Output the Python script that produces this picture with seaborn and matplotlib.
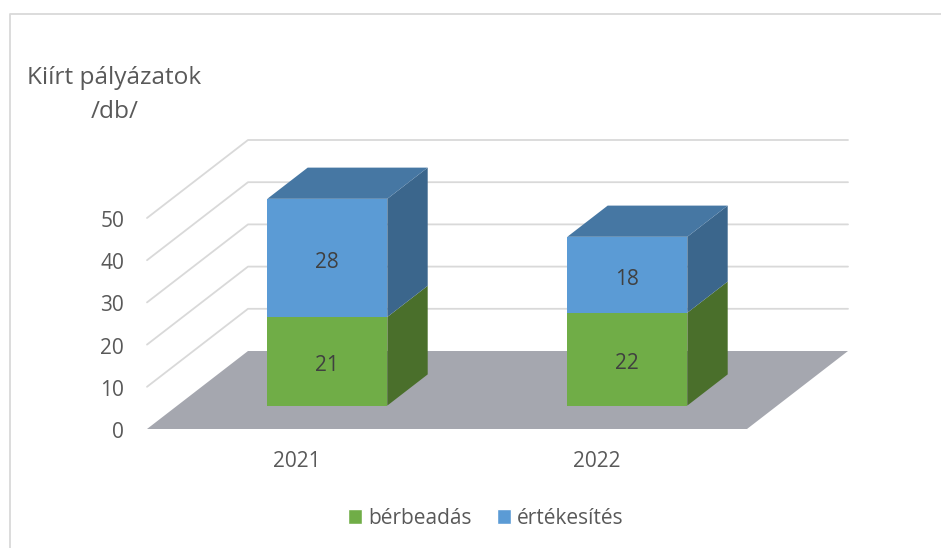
import matplotlib
matplotlib.use("Agg")
import matplotlib.pyplot as plt
import seaborn as sns
import pandas as pd
from matplotlib.patches import Polygon, Patch
from matplotlib.lines import Line2D
from matplotlib.transforms import Affine2D, ScaledTranslation

years = ["2021", "2022"]
berbeadas = [21, 22]
ertekesites = [28, 18]
y_ticks = [0, 10, 20, 30, 40, 50]
series_names = ["bérbeadás", "értékesítés"]

GREEN, GREEN_SIDE = "#70AD47", "#4A6F2B"
BLUE, BLUE_SIDE, BLUE_TOP = "#5B9BD5", "#3B668C", "#4677A3"
GREY_TXT = "#595959"
W, H = 941, 548

sns.set_theme(style="white")
plt.rcParams["font.family"] = ["Open Sans", "DejaVu Sans"]

fig = plt.figure(figsize=(W / 100, H / 100), dpi=100, facecolor="white")
# axes = the front plane of the 3D box, in pixels
L, R, B, T = 147, 747, 429, 218
ax = fig.add_axes([L / W, 1 - B / H, (R - L) / W, (B - T) / H])
ax.set_xlim(-0.5, 1.5)
ax.set_ylim(0, 50)
ax.patch.set_alpha(0)
sns.despine(ax=ax, left=True, bottom=True)

# depth vector in data units for a full box depth
DX = 101 / 300
DY = 78 / 4.22


def pr(x, y, d=0.0):
    return (x + d * DX, y + d * DY)


def poly(pts, color, z):
    ax.add_patch(Polygon(pts, closed=True, facecolor=color, edgecolor="none",
                         zorder=z, clip_on=False))


# grid lines on side and back walls
for t in y_ticks[1:]:
    xs, ys = zip(pr(-0.5, t), pr(-0.5, t, 1), pr(1.5, t, 1))
    ax.add_line(Line2D(xs, ys, color="#D9D9D9", lw=1.3, zorder=1, clip_on=False))
# floor
poly([pr(-0.5, 0), pr(1.5, 0), pr(1.5, 0, 1), pr(-0.5, 0, 1)], "#A5A7AF", 2)

df = pd.DataFrame({"year": years, "b": berbeadas, "e": ertekesites})
before = len(ax.patches)
sns.barplot(data=df, x="year", y="b", color=GREEN, saturation=1, width=0.4, ax=ax,
            order=years, zorder=5)
sns.barplot(data=df, x="year", y="e", bottom=df["b"].values, color=BLUE, saturation=1,
            width=0.4, ax=ax, order=years, zorder=5)
ax.set_xlim(-0.5, 1.5)
ax.set_ylim(0, 50)

D0, D1 = 0.3, 0.7
shift = Affine2D().translate(*pr(0, 0, D0)) + ax.transData
bars = list(ax.patches)[before:]
for i, p in enumerate(bars):
    x0, x1 = p.get_x(), p.get_x() + p.get_width()
    y0, y1 = p.get_y(), p.get_y() + p.get_height()
    p.set_transform(shift)
    p.set_clip_on(False)
    p.set_linewidth(0)
    blue = i >= len(years)
    side = BLUE_SIDE if blue else GREEN_SIDE
    poly([pr(x1, y0, D0), pr(x1, y0, D1), pr(x1, y1, D1), pr(x1, y1, D0)], side, 4)
    if blue:
        poly([pr(x0, y1, D0), pr(x1, y1, D0), pr(x1, y1, D1), pr(x0, y1, D1)], BLUE_TOP, 4)
    ax.annotate(f"{int(round(y1 - y0))}", xy=pr((x0 + x1) / 2, (y0 + y1) / 2, D0),
                xytext=(0, -7), textcoords="offset points", ha="center", va="baseline",
                fontsize=15, color="#404040", zorder=6, annotation_clip=False)

ax.set_xlabel("")
ax.set_ylabel("")
ax.set_yticks(y_ticks)
ax.set_xticks(range(len(years)))
ax.set_xticklabels(years)
ax.tick_params(axis="y", length=0, pad=16.5, labelsize=15, labelcolor=GREY_TXT)
ax.tick_params(axis="x", length=0, pad=16, labelsize=15, labelcolor=GREY_TXT)
for tick in ax.yaxis.get_major_ticks():
    lab = tick.label1
    lab.set_va("baseline")
    lab.set_transform(lab.get_transform() + ScaledTranslation(0, -9 / 100, fig.dpi_scale_trans))

# chart title
fig.text(114 / W, 1 - 83.5 / H, "Kiírt pályázatok", ha="center", va="baseline",
         fontsize=17.6, color=GREY_TXT)
fig.text(115 / W, 1 - 118 / H, "/db/", ha="center", va="baseline",
         fontsize=17.6, color=GREY_TXT)

# legend
handles = [Patch(facecolor=GREEN, label=series_names[0]), Patch(facecolor=BLUE, label=series_names[1])]
fig.legend(handles=handles, loc="center", bbox_to_anchor=(486 / W, 1 - 518.5 / H), ncol=2,
           frameon=False, fontsize=15, labelcolor=GREY_TXT, handlelength=0.67,
           handleheight=0.75, handletextpad=0.29, columnspacing=1.2, borderpad=0)

# chart-area frame (only top and left visible in the crop)
fig.add_artist(Line2D([10 / W, 10 / W, 1], [0, 1 - 14 / H, 1 - 14 / H],
                      color="#D9D9D9", lw=1.3, transform=fig.transFigure))

fig.savefig("out.png", dpi=100, facecolor="white")
